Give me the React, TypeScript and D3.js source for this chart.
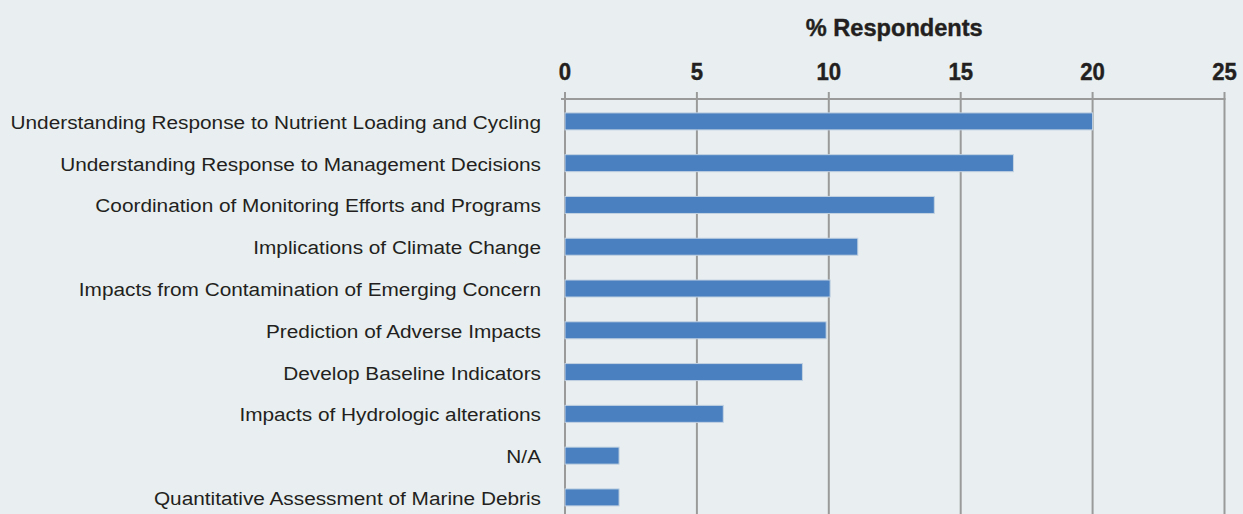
import React from "react";
import * as d3 from "d3";

const categories = [
  "Understanding Response to Nutrient Loading and Cycling",
  "Understanding Response to Management Decisions",
  "Coordination of Monitoring Efforts and Programs",
  "Implications of Climate Change",
  "Impacts from Contamination of Emerging Concern",
  "Prediction of Adverse Impacts",
  "Develop Baseline Indicators",
  "Impacts of Hydrologic alterations",
  "N/A",
  "Quantitative Assessment of Marine Debris",
];
const values = [20, 17, 14, 11.1, 10.05, 9.9, 9, 6, 2.05, 2.05];
const ticks = [0, 5, 10, 15, 20, 25];
const axisTitle = "% Respondents";

const W = 1243;
const H = 514;
const FONT = "'Liberation Sans', Arial, sans-serif";

function measure(text: string, font: string): number {
  const c = document.createElement("canvas");
  const ctx = c.getContext("2d")!;
  ctx.font = font;
  return ctx.measureText(text).width;
}

export default function App() {
  const x = d3.scaleLinear().domain([0, 25]).range([565, 1224.5]);
  const y = d3
    .scaleBand<string>()
    .domain(categories)
    .range([100.5, 518.3])
    .paddingInner(0.593)
    .paddingOuter(0.2965);
  const axisY = 99;

  const labelSize = 19;
  const labelScale = React.useMemo(() => {
    const w = measure(categories[0], `${labelSize}px 'Liberation Sans'`);
    return w > 0 ? 531 / w : 0.85;
  }, []);
  const titleSize = 24.5;
  const titleScale = React.useMemo(() => {
    const w = measure(axisTitle, `bold ${titleSize}px 'Liberation Sans'`);
    return w > 0 ? 177 / w : 0.85;
  }, []);
  const tickSize = 23;

  return (
    <svg
      width={W}
      height={H}
      style={{ position: "absolute", left: 0, top: 0, background: "#e9eff0" }}
    >
      <rect x={0} y={0} width={W} height={H} fill="#e9eff0" />
      <text
        transform={`translate(${(x(0) + x(25)) / 2 - 0.5},36) scale(${titleScale},1)`}
        textAnchor="middle"
        fontFamily={FONT}
        fontWeight="bold"
        fontSize={titleSize}
        fill="#231f20"
        stroke="#231f20"
        strokeWidth={0.4}
      >
        {axisTitle}
      </text>
      {ticks.map((t) => (
        <g key={t}>
          <line x1={x(t)} x2={x(t)} y1={92} y2={H} stroke="#9a9a9a" strokeWidth={2} />
          <text
            transform={`translate(${x(t)},80) scale(${titleScale},1)`}
            textAnchor="middle"
            fontFamily={FONT}
            fontWeight="bold"
            fontSize={tickSize}
            fill="#231f20"
            stroke="#231f20"
            strokeWidth={0.4}
          >
            {t}
          </text>
        </g>
      ))}
      <line x1={561} x2={x(25) + 1} y1={axisY} y2={axisY} stroke="#9a9a9a" strokeWidth={2} />
      {categories.map((c, i) => (
        <g key={c}>
          <rect
            x={x(0)}
            y={y(c)!}
            width={x(values[i]) - x(0)}
            height={y.bandwidth()}
            fill="#4a80c0"
            stroke="#c3d2e2"
            strokeWidth={1}
          />
          <text
            transform={`translate(541,${y(c)! + y.bandwidth() / 2 + 7.5}) scale(${labelScale},1)`}
            textAnchor="end"
            fontFamily={FONT}
            fontSize={labelSize}
            fill="#231f20"
          >
            {c}
          </text>
        </g>
      ))}
    </svg>
  );
}
